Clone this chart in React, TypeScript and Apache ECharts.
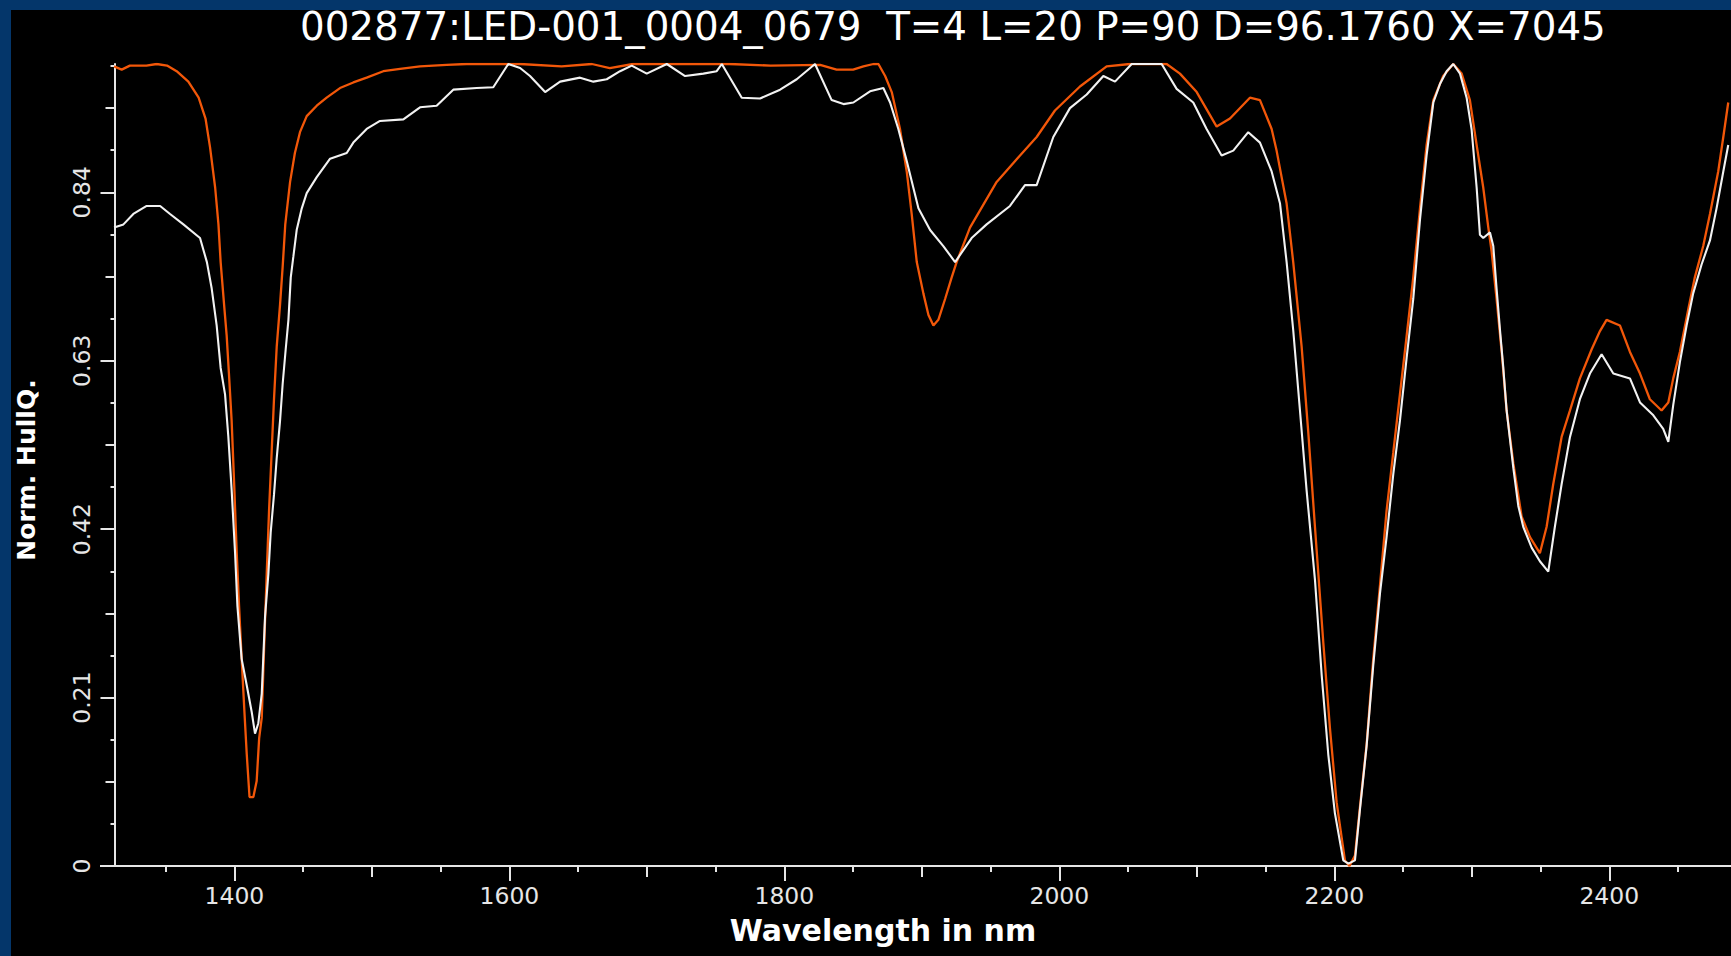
import React, { useEffect, useRef } from "react";
import * as echarts from "echarts";

// ---- data ----
const orangeNm = [
  1312.5, 1318, 1324, 1336, 1343.5, 1351, 1358, 1366.5, 1374, 1379, 1382.3, 1386, 1388.4, 1390, 1392.5, 1394.4, 1396, 1398,
  1400, 1401.7, 1403.4, 1405.3, 1407.3, 1409, 1411, 1413.8, 1416.2, 1418, 1419.9, 1421.6, 1423.5, 1425.2, 1427.1, 1428.8,
  1430.8, 1433.2, 1435.1, 1437, 1440.5, 1444, 1447.7, 1452.6, 1459.9, 1467.1, 1476.8, 1486.5, 1496.2, 1508.3, 1520.5, 1535,
  1554.4, 1569, 1607.8, 1638, 1660, 1673, 1690, 1760, 1790, 1826, 1838, 1850, 1857.5, 1864.8, 1868.4, 1873.3, 1878.1,
  1884.1, 1889, 1892.6, 1896.3, 1901.1, 1904.8, 1908.4, 1912, 1916.9, 1921.7, 1925.3, 1935, 1954.4, 1971.4, 1983.5, 1996.8,
  2015, 2034.4, 2051.4, 2078, 2087.7, 2099.9, 2114.4, 2124.1, 2138.6, 2145.9, 2154.4, 2158, 2165.3, 2170.1, 2176.2, 2181,
  2185.9, 2192, 2196.8, 2201.7, 2207.7, 2211, 2215, 2218.6, 2223.5, 2228.3, 2233.2, 2238, 2242.9, 2247.7, 2252.6, 2257.4,
  2262.3, 2267.1, 2272, 2279.2, 2286.5, 2292.6, 2298.6, 2303.5, 2308.3, 2312, 2314.4, 2318, 2321.7, 2325.3, 2330.2, 2336.2,
  2342.3, 2349.5, 2354.4, 2359.2, 2365.3, 2371.4, 2378.6, 2387.1, 2393.2, 2398, 2407.7, 2415, 2422.3, 2429.5, 2438, 2442.9,
  2446.5, 2451.3, 2457.4, 2462.2, 2468.3, 2473.2, 2479.2, 2482.9, 2486.5,
];
const orangeVal = [
  0.997, 0.993, 0.998, 0.998, 1.0, 0.998, 0.991, 0.978, 0.958, 0.932, 0.896, 0.846, 0.8, 0.753, 0.7, 0.661, 0.615, 0.555,
  0.469, 0.39, 0.324, 0.258, 0.192, 0.139, 0.086, 0.086, 0.106, 0.159, 0.185, 0.271, 0.364, 0.443, 0.516, 0.582,
  0.648, 0.7, 0.747, 0.8, 0.853, 0.889, 0.915, 0.935, 0.948, 0.958, 0.97, 0.977, 0.983, 0.991, 0.994, 0.997,
  0.999, 1.0, 1.0, 0.997, 1.0, 0.995, 1.0, 1.0, 0.998, 0.999, 0.993, 0.993, 0.997, 1.0, 1.0, 0.985, 0.965,
  0.919, 0.866, 0.813, 0.753, 0.714, 0.687, 0.674, 0.681, 0.707, 0.734, 0.753, 0.796, 0.853, 0.886, 0.909, 0.942,
  0.972, 0.997, 1.0, 1.0, 0.988, 0.965, 0.922, 0.932, 0.958, 0.955, 0.919, 0.892, 0.826, 0.753, 0.648, 0.542,
  0.423, 0.278, 0.172, 0.079, 0.007, 0.0, 0.013, 0.073, 0.152, 0.258, 0.35, 0.443, 0.516, 0.588, 0.661, 0.734,
  0.82, 0.899, 0.955, 0.985, 1.0, 0.988, 0.955, 0.899, 0.846, 0.796, 0.766, 0.707, 0.641, 0.568, 0.502, 0.436,
  0.41, 0.39, 0.423, 0.476, 0.535, 0.568, 0.608, 0.644, 0.667, 0.681, 0.674, 0.641, 0.614, 0.582, 0.568, 0.578,
  0.608, 0.641, 0.694, 0.734, 0.773, 0.813, 0.866, 0.909, 0.952,
];

const whiteNm = [
  1312.5, 1319.3, 1326.5, 1336.2, 1346, 1353.2, 1362.9, 1375, 1380, 1383.5, 1387.1, 1390, 1393.2, 1395.6, 1398, 1400.5,
  1402.2, 1405.3, 1409, 1412.6, 1415, 1417.4, 1419.9, 1422.3, 1424.7, 1426.4, 1428.8, 1430.8, 1433.2, 1435.1, 1437.3,
  1439.3, 1441, 1442.9, 1445.3, 1449, 1452.6, 1459.9, 1469.6, 1481.7, 1486.5, 1496.2, 1505.9, 1522.9, 1535, 1547.1,
  1559.2, 1576.2, 1588.3, 1599.2, 1607.8, 1615, 1626, 1636.9, 1651.4, 1661.1, 1670.8, 1680.5, 1689, 1699.9, 1714.5,
  1727.8, 1741.1, 1750.8, 1754.5, 1769, 1782.3, 1796.9, 1809, 1822.3, 1834.4, 1843, 1850.2, 1862.3, 1872, 1876.9,
  1882.9, 1889, 1897.5, 1906, 1915.6, 1924.2, 1936.2, 1947.1, 1964.1, 1975, 1983.5, 1995.6, 2007.7, 2019.9, 2032,
  2040.5, 2052.6, 2074.4, 2085.3, 2097.4, 2107.1, 2118, 2126.5, 2137.4, 2145.9, 2154.4, 2160.5, 2165.3, 2170.1, 2175,
  2179.8, 2185.9, 2190.8, 2195.6, 2200.4, 2206.5, 2210.2, 2215, 2218.6, 2223.5, 2228.3, 2233.2, 2238, 2242.9, 2247.7,
  2252.6, 2257.4, 2262.3, 2267.1, 2272, 2276.8, 2281.7, 2286.5, 2291.4, 2296.2, 2299.8, 2303.5, 2305.9, 2308.3, 2313.2,
  2315.6, 2318, 2320.5, 2322.9, 2325.3, 2330.2, 2333.8, 2337.4, 2343.5, 2349.5, 2355.6, 2360.4, 2365.3, 2371.4, 2378.6,
  2385.9, 2394.4, 2402.9, 2415, 2422.3, 2432, 2439.2, 2442.9, 2446.5, 2451.3, 2456.2, 2461, 2467.1, 2473.2, 2478,
  2482.9, 2486.5,
];
const whiteVal = [
  0.796, 0.8, 0.813, 0.823, 0.823, 0.813, 0.8, 0.783, 0.753, 0.72, 0.674, 0.621, 0.588, 0.535, 0.469, 0.39,
  0.324, 0.258, 0.225, 0.192, 0.165, 0.178, 0.215, 0.311, 0.364, 0.416, 0.463, 0.509, 0.555, 0.601, 0.644,
  0.681, 0.734, 0.76, 0.793, 0.82, 0.839, 0.859, 0.882, 0.889, 0.902, 0.919, 0.929, 0.931, 0.946, 0.948,
  0.968, 0.97, 0.971, 1.0, 0.995, 0.985, 0.965, 0.978, 0.983, 0.978, 0.981, 0.991, 0.998, 0.988, 1.0,
  0.985, 0.988, 0.991, 1.0, 0.958, 0.957, 0.968, 0.981, 1.0, 0.955, 0.95, 0.952, 0.966, 0.97, 0.952,
  0.919, 0.879, 0.82, 0.793, 0.773, 0.753, 0.783, 0.8, 0.823, 0.849, 0.849, 0.909, 0.945, 0.962, 0.985,
  0.978, 1.0, 1.0, 0.969, 0.952, 0.919, 0.886, 0.892, 0.915, 0.902, 0.866, 0.826, 0.753, 0.668, 0.568,
  0.469, 0.357, 0.238, 0.139, 0.066, 0.007, 0.003, 0.007, 0.07, 0.15, 0.25, 0.34, 0.41, 0.489, 0.555,
  0.634, 0.707, 0.806, 0.886, 0.952, 0.975, 0.991, 1.0, 0.988, 0.958, 0.919, 0.846, 0.787, 0.783, 0.79,
  0.773, 0.72, 0.668, 0.621, 0.568, 0.496, 0.449, 0.423, 0.397, 0.38, 0.367, 0.423, 0.476, 0.535, 0.582,
  0.614, 0.638, 0.614, 0.608, 0.578, 0.562, 0.545, 0.529, 0.575, 0.628, 0.674, 0.714, 0.75, 0.78, 0.82,
  0.866, 0.899,
];

// ---- axes ----
const xRange = [1312.8, 2488.5];
const xLabelTicks = [1400, 1600, 1800, 2000, 2200, 2400];
const xMidTicks = [1500, 1700, 1900, 2100, 2300];
const xMinorTicks = [1350, 1450, 1550, 1650, 1750, 1850, 1950, 2050, 2150, 2250, 2350, 2450];
const yRange = [0, 1];
const yLabelTicks = [0, 0.21, 0.42, 0.63, 0.84];
const yMidTicks = [0.105, 0.315, 0.525, 0.735, 0.945];
const yMinorTicks = [0.0525, 0.1575, 0.2625, 0.3675, 0.4725, 0.5775, 0.6825, 0.7875, 0.8925, 0.9975];

const titleText = "002877:LED-001_0004_0679  T=4 L=20 P=90 D=96.1760 X=7045";
const xTitle = "Wavelength in nm";
const yTitle = "Norm. HullQ.";

const FONT = "'DejaVu Sans', Verdana, sans-serif";
const AX = "#e6e6e6";
const ORANGE = "#f25709";
const WHITE = "#f2f2f2";
const FRAME = "#04366a";

export default function App() {
  const ref = useRef<HTMLDivElement>(null);
  useEffect(() => {
    if (!ref.current) return;
    const chart = echarts.init(ref.current, null, { renderer: "svg" });
    const xBase = {
      type: "value",
      min: xRange[0],
      max: xRange[1],
      position: "bottom",
      gridIndex: 0,
      splitLine: { show: false },
    };
    const yBase = {
      type: "value",
      min: yRange[0],
      max: yRange[1],
      position: "left",
      gridIndex: 0,
      splitLine: { show: false },
    };
    const tickStyle = { color: AX, width: 2 };
    chart.setOption({
      animation: false,
      backgroundColor: "#000000",
      grid: { left: 114.5, top: 64, right: 0, bottom: 90, containLabel: false },
      xAxis: [
        {
          ...xBase,
          axisLine: { show: true, onZero: false, lineStyle: { color: AX, width: 2 } },
          axisTick: { show: true, customValues: xLabelTicks, length: 15, lineStyle: tickStyle },
          axisLabel: {
            show: true,
            customValues: xLabelTicks,
            color: AX,
            fontFamily: FONT,
            fontSize: 23.5,
            margin: 18,
            formatter: (v: number) => String(v),
          },
        },
        {
          ...xBase,
          axisLine: { show: false },
          axisTick: { show: true, customValues: xMidTicks, length: 11, lineStyle: tickStyle },
          axisLabel: { show: false },
        },
        {
          ...xBase,
          axisLine: { show: false },
          axisTick: { show: true, customValues: xMinorTicks, length: 6, lineStyle: tickStyle },
          axisLabel: { show: false },
        },
      ],
      yAxis: [
        {
          ...yBase,
          axisLine: { show: true, onZero: false, lineStyle: { color: AX, width: 2 } },
          axisTick: { show: true, customValues: yLabelTicks, length: 14, lineStyle: tickStyle },
          axisLabel: {
            show: true,
            customValues: yLabelTicks,
            rotate: 90,
            color: AX,
            fontFamily: FONT,
            fontSize: 23.5,
            margin: 21,
            formatter: (v: number) => (v === 0 ? "0" : v.toFixed(2)),
          },
        },
        {
          ...yBase,
          axisLine: { show: false },
          axisTick: { show: true, customValues: yMidTicks, length: 9, lineStyle: tickStyle },
          axisLabel: { show: false },
        },
        {
          ...yBase,
          axisLine: { show: false },
          axisTick: { show: true, customValues: yMinorTicks, length: 4, lineStyle: tickStyle },
          axisLabel: { show: false },
        },
      ],
      series: [
        {
          type: "line",
          xAxisIndex: 0,
          yAxisIndex: 0,
          data: orangeNm.map((n, i) => [n, orangeVal[i]]),
          showSymbol: false,
          symbol: "none",
          lineStyle: { color: ORANGE, width: 2.3 },
          itemStyle: { color: ORANGE },
          silent: true,
          z: 2,
        },
        {
          type: "line",
          xAxisIndex: 0,
          yAxisIndex: 0,
          data: whiteNm.map((n, i) => [n, whiteVal[i]]),
          showSymbol: false,
          symbol: "none",
          lineStyle: { color: WHITE, width: 2.1 },
          itemStyle: { color: WHITE },
          silent: true,
          z: 3,
        },
      ],
      graphic: [
        {
          type: "rect",
          shape: { x: 0, y: 0, width: 1731, height: 10 },
          style: { fill: FRAME },
          silent: true,
        },
        {
          type: "rect",
          shape: { x: 0, y: 0, width: 11, height: 956 },
          style: { fill: FRAME },
          silent: true,
        },
        {
          type: "line",
          shape: { x1: 100, y1: 866, x2: 115, y2: 866 },
          style: { stroke: AX, lineWidth: 2 },
          silent: true,
        },
        {
          type: "text",
          x: 300,
          y: 26,
          style: {
            text: titleText,
            fill: "#ffffff",
            font: `38.8px ${FONT}`,
            align: "left",
            verticalAlign: "middle",
          },
          silent: true,
        },
        {
          type: "text",
          x: 883,
          y: 930,
          style: {
            text: xTitle,
            fill: "#ffffff",
            font: `bold 30px ${FONT}`,
            align: "center",
            verticalAlign: "middle",
          },
          silent: true,
        },
        {
          type: "text",
          x: 26,
          y: 470,
          rotation: Math.PI / 2,
          style: {
            text: yTitle,
            fill: "#ffffff",
            font: `bold 25px ${FONT}`,
            align: "center",
            verticalAlign: "middle",
          },
          silent: true,
        },
      ],
    });
    return () => chart.dispose();
  }, []);

  return (
    <div
      ref={ref}
      style={{ position: "fixed", left: 0, top: 0, width: 1731, height: 956 }}
    />
  );
}
